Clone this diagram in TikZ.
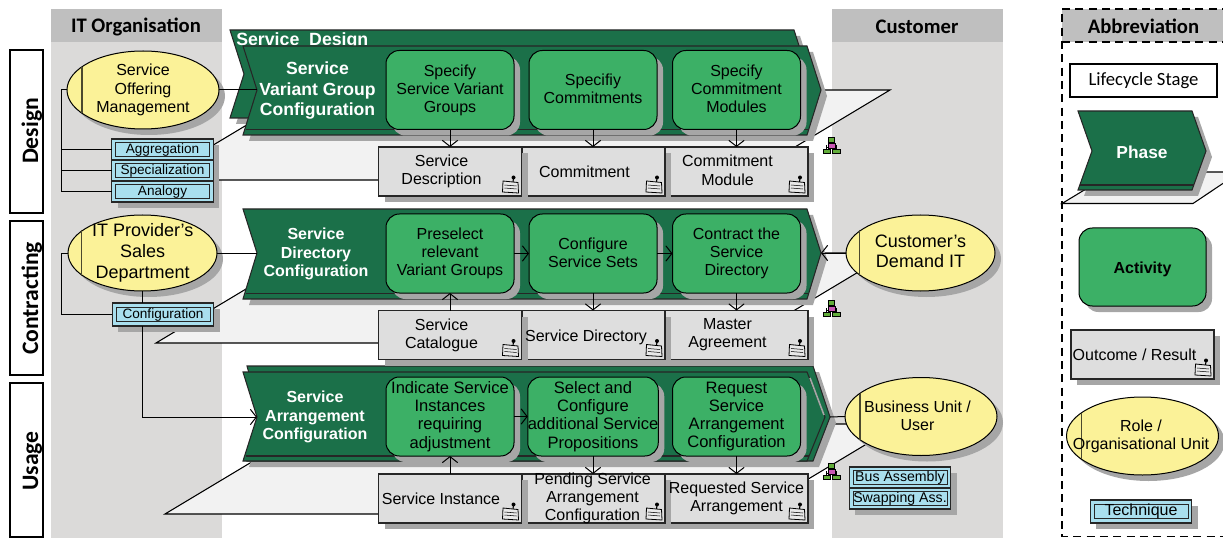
\documentclass[tikz,border=0pt]{standalone}
\usepackage{fontspec}
\setmainfont{Liberation Sans}
\newfontfamily\carl{Carlito}
\usetikzlibrary{arrows.meta,shapes.geometric,shadows}
\definecolor{colbody}{HTML}{DBDAD9}
\definecolor{colhead}{HTML}{BFBFBF}
\definecolor{shadowgrey}{HTML}{A6A6A6}
\definecolor{phasegreen}{HTML}{1B7049}
\definecolor{actgreen}{HTML}{3CB066}
\definecolor{outgrey}{HTML}{DEDEDE}
\definecolor{paral}{HTML}{F2F2F2}
\definecolor{roleyellow}{HTML}{FBF298}
\definecolor{techblue}{HTML}{A9DFEE}
\definecolor{orggreen}{HTML}{62AD3A}
\definecolor{orgpink}{HTML}{C858B4}
\newcommand{\fpx}[2]{\fontsize{#1}{#2}\selectfont}
\newcommand{\topst}{\leavevmode\vrule height.87\baselineskip depth0pt width0pt\relax}
\newcommand{\botst}{\vrule height0pt depth.13\baselineskip width0pt\relax}
\newcommand{\chev}[6][]{\path[#1] (#2,#4) -- (#3,#4) -- ({#3+14},#5) -- (#3,#6) -- (#2,#6) -- ({#2+14},#5) -- cycle;}
\newcommand{\rolebar}[1]{\draw[barline] (#1.center) ++(-61,-23) -- ++(0,46);}
\newcommand{\docicon}[1]{\begin{scope}[shift={(#1.south east)}]
\draw[line width=.6pt,fill=outgrey!70!white] (-18.5,-15) -- (-3.5,-13.5) -- (-3,-3) -- (-19,-4) -- cycle;
\draw[line width=.4pt] (-17,-11) -- (-5,-10) (-17,-8) -- (-5,-7);
\draw[line width=.8pt] (-8.5,-14) -- (-8,-18);
\fill (-8,-18.5) circle (2);
\end{scope}}
\newcommand{\orgsym}[2]{\begin{scope}[shift={(#1,#2)}]
\draw[line width=.4pt] (0,5) -- (0,8) (-5,8) -- (-5,12) (5,8) -- (5,12) (-5,10) -- (5,10);
\draw[line width=.4pt,fill=orggreen] (-3,0) rectangle (3,5);
\draw[line width=.4pt,fill=orgpink] (-3.5,6) rectangle (3.5,11);
\draw[line width=.4pt,fill=orggreen] (-8.5,12) rectangle (-1,16.5);
\draw[line width=.4pt,fill=orggreen] (1,12) rectangle (8.5,16.5);
\end{scope}}
\tikzset{
 x=0.75pt,y=-0.75pt,
 st/.style={execute at begin node=\topst,execute at end node=\botst},
 shad/.style={drop shadow={shadow xshift=4.5pt,shadow yshift=-4.5pt,opacity=1,fill=shadowgrey}},
 stagebox/.style={draw=black,line width=1pt,fill=white,minimum width=24.75pt,outer sep=0pt,inner sep=0pt},
 stagetext/.style={rotate=90,anchor=base,font=\carl\bfseries\fpx{17.7}{20},inner sep=0pt},
 headtext/.style={font=\carl\bfseries\fpx{15.5}{18},inner sep=0pt},
 phaseline/.style={draw=black!85,line width=.8pt,fill=phasegreen},
 phasetext/.style={st,text=white,align=center,inner sep=0pt},
 activity/.style={st,draw=black,line width=.75pt,fill=actgreen,rounded corners=10pt,shad,minimum width=96pt,minimum height=59.25pt,align=center,inner sep=0pt,outer sep=0pt,font=\fpx{12}{13.5}},
 outcome/.style={draw=black!85,line width=.8pt,fill=outgrey,shad,minimum width=107.25pt,minimum height=36.75pt,inner sep=0pt,outer sep=0pt},
 outtext/.style={st,align=center,inner sep=0pt,font=\fpx{12}{13.7}},
 role/.style={ellipse,draw=black,line width=.75pt,fill=roleyellow,shad,inner sep=0pt,outer sep=0pt,minimum width=114pt,minimum height=58.5pt},
 roletext/.style={st,align=center,inner sep=0pt},
 barline/.style={draw=black!70!roleyellow,line width=.9pt},
 techout/.style={draw=black!85,line width=.8pt,fill=techblue,shad,minimum width=76pt,minimum height=15.75pt,inner sep=0pt,outer sep=0pt},
 techin/.style={draw=black!85,line width=.7pt,minimum width=70.5pt,minimum height=10.8pt,inner sep=0pt,font=\fpx{10.2}{11}},
 para/.style={draw=black,line width=.8pt,fill=paral},
 conn/.style={draw=black,line width=.75pt},
 >={Straight Barb[length=4.5pt,width=11.5pt]}
}
\begin{document}
\begin{tikzpicture}
\useasboundingbox (0,0) rectangle (1223,538);
\clip (0,0) rectangle (1223,538);
% columns
\fill[colbody] (51,9) rectangle (222,538);
\fill[colhead] (51,9) rectangle (222,42);
\fill[colbody] (832,9) rectangle (1003,538);
\fill[colhead] (832,9) rectangle (1003,42);
\node[headtext] (hit) at (136,26.5) {IT Organisation};
\node[headtext] (hcu) at (917,26.5) {Customer};
% stages
\node[stagebox,minimum height=122.25pt] (s1) at (26.5,131.5) {};
\node[stagebox,minimum height=115.5pt] (s2) at (26.5,298) {};
\node[stagebox,minimum height=115.5pt] (s3) at (26.5,460) {};
\node[stagetext] (s1t) at (38,131) {Design};
\node[stagetext] (s2t) at (38,298.5) {Contracting};
\node[stagetext] (s3t) at (38,461) {Usage};
% parallelograms
\draw[para] (155,180) -- (305,90) -- (890,90) -- (740,180) -- cycle;
\draw[para] (156,343) -- (306,253) -- (890,253) -- (740,343) -- cycle;
\draw[para] (165,514) -- (315,424) -- (900,424) -- (750,514) -- cycle;
% phase Service Design (back)
\chev[fill=shadowgrey]{236}{800}{36}{80}{124}
\chev[phaseline]{230}{794}{30}{74}{118}
\node[inner sep=0pt,text=white,anchor=base west,font=\bfseries\fpx{13.3}{15}] (sd) at (236,46) {Service\ \ Design};
% phase row 1
\chev[fill=shadowgrey]{249}{813}{52}{96}{141}
\chev[phaseline]{243}{807}{46}{90}{135}
\draw[line width=.8pt,black!85] (245.5,129.5) -- (809,129.5);
\coordinate (p1in) at (257,90);
% phase row 2
\chev[fill=shadowgrey]{249}{813}{215}{259}{305}
\chev[phaseline]{243}{807}{209}{253}{299}
\draw[line width=.8pt,black!85] (245.5,293.5) -- (809,293.5);
\coordinate (p2in) at (257,253);
\coordinate (p2tip) at (821,253);
% phase row 3
\path[fill=shadowgrey] (253,372) -- (819,372) -- (836,423) -- (819,467) -- (249,467) -- (263,423) -- cycle;
\path[phaseline] (247,366) -- (813,366) -- (830,417) -- (813,461) -- (247,461) -- (261,417) -- cycle;
\path[phaseline] (243,372) -- (807,372) -- (825,417) -- (807,461) -- (243,461) -- (257,417) -- cycle;
\draw[line width=.8pt,black!85] (245.5,456) -- (809,456);
\draw[shadowgrey,line width=1.2pt] (810,378) -- (824,415);
\coordinate (p3in) at (257,417);
\coordinate (p3tip) at (830,417);
% phase texts
\node[phasetext,font=\bfseries\fpx{13.2}{15.2}] (p1t) at (317.5,90.5) {Service\\Variant Group\\Configuration};
\node[phasetext,font=\bfseries\fpx{12}{13.7}] (p2t) at (316,254) {Service\\Directory\\Configuration};
\node[phasetext,font=\bfseries\fpx{12}{13.7}] (p3t) at (315,417) {Service\\Arrangement\\Configuration};
% activities row 1
\node[activity] (a11) at (450,90) {Specify\\Service Variant\\Groups};
\node[activity] (a12) at (593,90) {Specifiy\\Commitments};
\node[activity] (a13) at (736.5,90) {Specify\\Commitment\\Modules};
% activities row 2
\node[activity] (a21) at (450,253.5) {Preselect\\relevant\\Variant Groups};
\node[activity] (a22) at (593,253.5) {Configure\\Service Sets};
\node[activity] (a23) at (736.5,253.5) {Contract the\\Service\\Directory};
% activities row 3
\node[activity,font=\fpx{12.4}{13.7}] (a31) at (450,416.5) {Indicate Service\\Instances\\requiring\\adjustment};
\node[activity,font=\fpx{12.4}{13.7}] (a32) at (593,416.5) {Select and\\Configure\\additional Service\\Propositions};
\node[activity,font=\fpx{12.4}{13.7}] (a33) at (736.5,416.5) {Request\\Service\\Arrangement\\Configuration};
% outcomes, right to left so each shadow lies on the next box
\node[outcome] (o13) at (736.5,171.5) {};
\node[outcome] (o12) at (593.5,171.5) {};
\node[outcome] (o11) at (450,171.5) {};
\node[outcome] (o23) at (736.5,335) {};
\node[outcome] (o22) at (593.5,335) {};
\node[outcome] (o21) at (450,335) {};
\node[outcome] (o33) at (736.5,498.5) {};
\node[outcome] (o32) at (593.5,498.5) {};
\node[outcome] (o31) at (450,498.5) {};
\foreach \n in {o11,o12,o13,o21,o22,o23,o31,o32,o33}{\docicon{\n}}
\node[outtext] (t11) at (441.5,171.5) {Service\\Description};
\node[outtext] (t12) at (584.5,171) {Commitment};
\node[outtext] (t13) at (727.5,171.5) {Commitment\\Module};
\node[outtext] (t21) at (441.5,335) {Service\\Catalogue};
\node[outtext] (t22) at (586,335) {Service Directory};
\node[outtext] (t23) at (727.5,335) {Master\\Agreement};
\node[outtext] (t31) at (441,498) {Service Instance};
\node[outtext] (t32) at (592.5,498.5) {Pending Service\\Arrangement\\Configuration};
\node[outtext] (t33) at (736.5,498.5) {Requested Service\\Arrangement};
% roles
\node[role] (r1) at (143,90) {};
\rolebar{r1}
\node[roletext,font=\fpx{12}{13.8}] (r1t) at (143,90) {Service\\Offering\\Management};
\node[role,minimum width=111.75pt,minimum height=57pt] (r2) at (142.5,253) {};
\rolebar{r2}
\node[roletext,font=\fpx{13.5}{15.6}] (r2t) at (142.7,253) {IT Provider's\\Sales\\Department};
\node[role,minimum width=111.75pt,minimum height=57pt] (r3) at (920.5,253) {};
\rolebar{r3}
\node[roletext,font=\fpx{13.5}{14.8}] (r3t) at (920.5,252.5) {Customer's\\Demand IT};
\node[role] (r4) at (921,416.5) {};
\rolebar{r4}
\node[roletext,font=\fpx{12}{13.5}] (r4t) at (917.5,416.5) {Business Unit /\\User};
% techniques
\node[techout] (q1) at (162.5,149.5) {};
\node[techout] (q2) at (162.5,170.5) {};
\node[techout] (q3) at (162.5,191.5) {};
\node[techin] (q1t) at (q1) {Aggregation};
\node[techin] (q2t) at (q2) {Specialization};
\node[techin] (q3t) at (q3) {Analogy};
\node[techout,minimum height=17.25pt] (q4) at (163,314.5) {};
\node[techin] (q4t) at (q4) {Configuration};
\node[techout] (q5) at (900,477.5) {};
\node[techout] (q6) at (900,498.5) {};
\node[techin,font=\fpx{10.6}{11}] (q5t) at (q5) {Bus Assembly};
\node[techin,font=\fpx{10.6}{11}] (q6t) at (q6) {Swapping Ass.};
% connectors
\coordinate (j1) at (61,90);
\draw[conn] (r1.west) -- (j1) |- (q3.west);
\draw[conn] (j1 |- q1.west) -- (q1.west);
\draw[conn] (j1 |- q2.west) -- (q2.west);
\draw[conn] (r1.east) -- (p1in);
\draw[conn] (r2.east) -- (p2in);
\coordinate (j2) at (61,253);
\draw[conn] (r2.west) -- (j2) |- (q4.west);
\draw[conn] (r2.south) -- (r2.south |- q4.north);
\draw[conn,->] (r2.south |- q4.south) |- (p3in);
\draw[conn,->] (r3.west) -- (p2tip);
\draw[conn] (r4.west) -- (p3tip);
\draw[conn,->] (a11.south) -- (a11.south |- o11.north);
\draw[conn,->] (a12.south) -- (a12.south |- o12.north);
\draw[conn,->] (a13.south) -- (a13.south |- o13.north);
\draw[conn,->] (o21.north) -- (o21.north |- a21.south);
\draw[conn,->] (a22.south) -- (a22.south |- o22.north);
\draw[conn,->] (a23.south) -- (a23.south |- o23.north);
\draw[conn,->] (o31.north) -- (o31.north |- a31.south);
\draw[conn,->] (a32.south) -- (a32.south |- o32.north);
\draw[conn,->] (a33.south) -- (a33.south |- o33.north);
\draw[conn,->] (a21.east) -- (a22.west);
\draw[conn,->] (a22.east) -- (a23.west);
\draw[conn,->] (a31.east) -- (a32.west);
\orgsym{831.5}{137}
\orgsym{831.5}{300}
\orgsym{831.5}{463}
% legend
\fill[colhead] (1062,9) rectangle (1230,42);
\draw[black,line width=.9pt,dash pattern=on 6pt off 4pt] (1230,9) -- (1062,9) -- (1062,536.5) -- (1230,536.5) (1062,42) -- (1230,42);
\node[headtext] (hab) at (1143.5,26.5) {Abbreviation};
\node[draw=black,line width=1pt,fill=white,minimum width=110.25pt,minimum height=24.75pt,inner sep=0pt,font=\carl\fpx{14}{15}] (l1) at (1143.5,80.5) {Lifecycle Stage};
\draw[para] (1062,203.5) -- (1114,172) -- (1240,172) -- (1193,203.5) -- cycle;
\chev[fill=shadowgrey]{1084}{1198}{117}{157}{196}
\chev[phaseline]{1078}{1192}{111}{151}{190}
\draw[line width=.8pt,black!85] (1080,185) -- (1194,185);
\node[phasetext,font=\bfseries\fpx{13}{15}] (l2) at (1142,151) {Phase};
\node[activity,minimum width=95.25pt,minimum height=58.5pt,font=\bfseries\fpx{12}{14}] (l3) at (1142.5,267) {Activity};
\node[outcome] (l4) at (1142.5,354.5) {};
\docicon{l4}
\node[outtext] (l4t) at (1134.5,354) {Outcome / Result};
\node[role] (l5) at (1142.5,436) {};
\rolebar{l5}
\node[roletext,font=\fpx{12}{13.5}] (l5t) at (1141,436) {Role /\\Organisational Unit};
\node[techout,minimum height=17.25pt] (l6) at (1141,511.5) {};
\node[techin,font=\fpx{12}{12}] (l6t) at (l6) {Technique};
\end{tikzpicture}
\end{document}
